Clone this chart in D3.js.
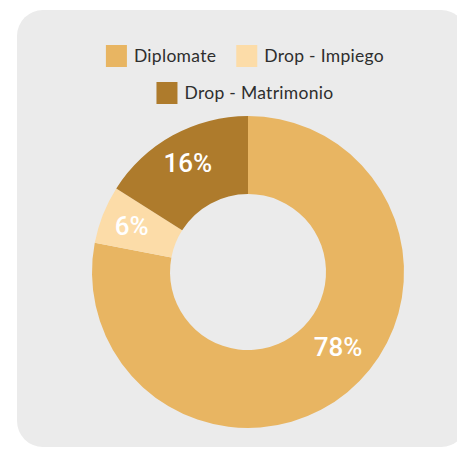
<!DOCTYPE html>
<html><head><meta charset="utf-8">
<script src="https://cdn.jsdelivr.net/npm/d3@7"></script>
<style>html,body{margin:0;padding:0;background:#fff;}svg{display:block;}</style>
</head><body><svg id="c" width="457" height="450"></svg>
<script>
const categories = ["Diplomate", "Drop - Impiego", "Drop - Matrimonio"];
const values = [78, 6, 16];
const colors = ["#e8b562", "#fcdca8", "#ae7b2c"];

const svg = d3.select("#c");
svg.append("rect").attr("x",17).attr("y",10).attr("width",450).attr("height",437).attr("rx",26).attr("fill","#ebebeb");

const cx = 248, cy = 272, rOuter = 156, rInner = 78;
const pie = d3.pie().sort(null).value(d => d)(values);
const arc = d3.arc().innerRadius(rInner).outerRadius(rOuter);
const g = svg.append("g").attr("transform", `translate(${cx},${cy})`);
g.selectAll("path").data(pie).join("path").attr("d", arc).attr("fill", (d,i) => colors[i]);

// labels: at slice middle, but large slices keep label nearer their start
function labelPos(d) {
  const mid = Math.min((d.startAngle + d.endAngle) / 2, d.startAngle + 0.72 * Math.PI);
  const r = d.endAngle - d.startAngle > Math.PI ? 117 : 125;
  return [r * Math.sin(mid), -r * Math.cos(mid)];
}
g.selectAll("text").data(pie).join("text")
  .attr("transform", d => `translate(${labelPos(d)})`)
  .attr("text-anchor","middle").attr("dy","0.36em")
  .attr("fill","#fff").attr("font-family","Roboto, Liberation Sans, Arial, sans-serif")
  .attr("font-weight",500).attr("font-size",26)
  .text((d,i) => values[i] + "%");

// legend
const legendRows = [[0,1],[2]];
const rowY = [56, 93];
const font = "Lato, sans-serif";
const fs = 17.5;
const tmp = svg.append("text").attr("font-family", font).attr("font-size",fs).attr("letter-spacing","0.3px");
legendRows.forEach((row, ri) => {
  const items = row.map(i => {
    tmp.text(categories[i]);
    return {i, w: 21 + 7 + tmp.node().getComputedTextLength()};
  });
  const gap = 20;
  const total = d3.sum(items, d => d.w) + gap*(items.length-1);
  let x = cx - total/2 - 3;
  items.forEach(it => {
    svg.append("rect").attr("x", x).attr("y", rowY[ri]-11).attr("width",21).attr("height",22).attr("fill", colors[it.i]);
    svg.append("text").attr("x", x+28).attr("y", rowY[ri]).attr("dy","0.35em")
      .attr("font-family", font).attr("font-size",fs).attr("letter-spacing","0.3px").attr("fill","#2e2e2e").text(categories[it.i]);
    x += it.w + gap;
  });
});
tmp.remove();
</script></body></html>
